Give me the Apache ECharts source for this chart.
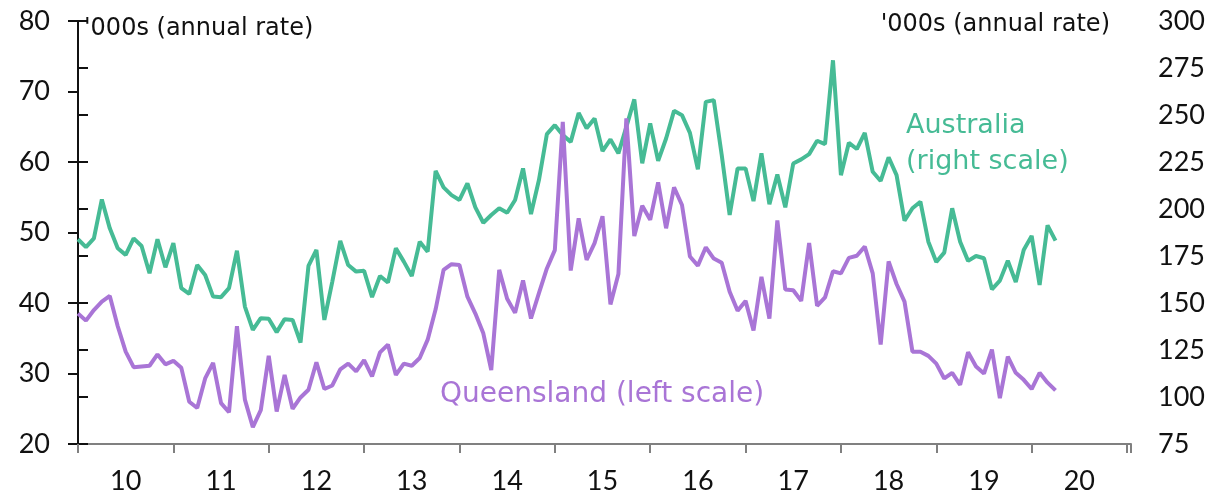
<!DOCTYPE html>
<html>
<head>
<meta charset="utf-8">
<title>Dwelling approvals</title>
<script src="https://cdn.jsdelivr.net/npm/echarts@6/dist/echarts.min.js"></script>
<style>html, body { margin: 0; padding: 0; background: #fff; }</style>
</head>
<body>
<div id="main" style="width:1212px;height:498px;"></div>
<script type="text/javascript">
// monthly observations, Jan 2010 onwards ('000s, annual rate)
var yearLabels = ['10', '11', '12', '13', '14', '15', '16', '17', '18', '19', '20'];

var queensland = [
    38.5, 37.5, 39.0, 40.2, 41.0, 36.7, 33.1, 30.9, 31.0, 31.1, 32.7, 31.3,
    31.8, 30.8, 26.0, 25.1, 29.3, 31.5, 25.8, 24.5, 36.7, 26.3, 22.4, 24.8,
    32.5, 24.6, 29.8, 25.0, 26.6, 27.7, 31.6, 27.8, 28.3, 30.6, 31.4, 30.3,
    31.9, 29.6, 33.0, 34.1, 29.8, 31.4, 31.1, 32.2, 34.8, 39.1, 44.7, 45.5,
    45.4, 40.9, 38.5, 35.7, 30.5, 44.7, 40.6, 38.6, 43.2, 37.8, 41.4, 44.9,
    47.5, 65.7, 44.6, 52.0, 46.1, 48.5, 52.3, 39.8, 44.1, 66.2, 49.5, 53.8,
    51.8, 57.1, 50.6, 56.4, 53.9, 46.6, 45.3, 47.9, 46.3, 45.7, 41.6, 38.9,
    40.3, 36.1, 43.7, 37.8, 51.7, 41.9, 41.8, 40.3, 48.5, 39.6, 40.8, 44.5,
    44.2, 46.4, 46.7, 48.0, 44.2, 34.1, 45.9, 42.7, 40.2, 33.1, 33.1, 32.5,
    31.4, 29.3, 30.1, 28.4, 33.0, 31.0, 30.0, 33.4, 26.5, 32.4, 30.1, 29.1,
    27.8, 30.1, 28.7, 27.6
];

var australia = [
    183.9, 179.7, 184.4, 205.1, 189.7, 179.1, 175.6, 184.4, 180.3, 165.8, 183.9, 169.0,
    181.8, 157.9, 154.8, 170.2, 164.9, 153.4, 153.1, 157.9, 177.8, 148.1, 135.7, 141.9,
    141.6, 134.5, 141.4, 141.0, 129.0, 169.7, 178.2, 141.0, 161.4, 183.0, 170.2, 166.7,
    167.1, 153.1, 164.4, 160.9, 179.1, 172.0, 164.4, 182.6, 177.3, 220.3, 211.5, 207.4,
    204.8, 213.6, 200.9, 192.7, 196.8, 200.4, 198.0, 204.8, 221.6, 197.3, 215.4, 239.8,
    244.6, 239.3, 235.7, 251.1, 242.9, 248.2, 230.8, 237.0, 229.6, 243.7, 258.3, 224.3,
    245.5, 225.6, 237.5, 252.2, 249.9, 240.5, 221.1, 257.0, 257.9, 228.7, 196.8, 221.6,
    221.6, 204.2, 229.6, 202.6, 218.4, 200.9, 224.2, 226.4, 229.2, 236.3, 234.5, 279.1,
    218.0, 235.2, 231.9, 240.5, 219.8, 214.9, 227.5, 218.0, 193.8, 200.4, 203.9, 182.6,
    171.8, 176.8, 200.4, 182.6, 172.4, 175.0, 173.8, 157.3, 161.9, 172.5, 161.1, 178.2,
    185.7, 159.6, 191.3, 183.2
];

var green = '#46BB95';
var purple = '#A975D6';
var numFont = 'Lato';
var textFont = 'DejaVu Sans';

function pairs(arr) {
    return arr.map(function (v, i) { return [i, v]; });
}

var myChart = echarts.init(document.getElementById('main'));

var option = {
    animation: false,
    grid: { left: 78, right: 81, top: 21, bottom: 54, outerBoundsMode: 'none' },
    xAxis: [{
        // year boundaries: axis line and ticks only
        type: 'value',
        position: 'bottom',
        min: 0,
        max: 132.5,
        interval: 12,
        axisLine: { show: true, lineStyle: { color: '#808080', width: 2 } },
        axisTick: { show: true, inside: false, length: 9, lineStyle: { color: '#808080', width: 2 } },
        axisLabel: { show: false },
        splitLine: { show: false }
    }, {
        // year labels centred in each year
        type: 'value',
        position: 'bottom',
        min: 0,
        max: 132.5,
        interval: 6,
        axisLine: { show: false },
        axisTick: { show: false },
        splitLine: { show: false },
        axisLabel: {
            margin: 24,
            fontSize: 27,
            fontFamily: numFont,
            color: '#111',
            formatter: function (v) {
                if (v % 12 === 6) return yearLabels[(v - 6) / 12];
                return '';
            }
        }
    }],
    yAxis: [{
        type: 'value',
        min: 20,
        max: 80,
        interval: 10,
        position: 'left',
        axisLine: { show: true, lineStyle: { color: '#111', width: 2 } },
        axisTick: { show: true, length: 10, lineStyle: { color: '#111', width: 2 } },
        axisLabel: { margin: 28, fontSize: 27, fontFamily: numFont, color: '#111' },
        splitLine: { show: false }
    }, {
        type: 'value',
        min: 75,
        max: 300,
        interval: 25,
        position: 'right',
        axisLine: { show: true, lineStyle: { color: '#111', width: 2 } },
        axisTick: { show: true, length: 10, lineStyle: { color: '#111', width: 2 } },
        axisLabel: { margin: 27, fontSize: 27, fontFamily: numFont, color: '#111' },
        splitLine: { show: false }
    }],
    graphic: [
        { type: 'text', left: 84, top: 17, style: { text: "'000s (annual rate)", fontSize: 24, fontFamily: textFont, fill: '#111' } },
        { type: 'text', right: 102, top: 13, style: { text: "'000s (annual rate)", fontSize: 24, fontFamily: textFont, fill: '#111' } },
        { type: 'text', left: 440, top: 381, style: { text: 'Queensland (left scale)', fontSize: 28, fontFamily: textFont, fill: purple } },
        { type: 'text', left: 906, top: 108, style: { text: 'Australia\n(right scale)', fontSize: 27, lineHeight: 36, fontFamily: textFont, fill: green } }
    ],
    series: [{
        name: 'Australia',
        type: 'line',
        xAxisIndex: 0,
        yAxisIndex: 1,
        showSymbol: false,
        lineStyle: { color: green, width: 4 },
        data: pairs(australia)
    }, {
        name: 'Queensland',
        type: 'line',
        xAxisIndex: 0,
        yAxisIndex: 0,
        showSymbol: false,
        lineStyle: { color: purple, width: 4 },
        data: pairs(queensland)
    }]
};

myChart.setOption(option);
</script>
</body>
</html>
